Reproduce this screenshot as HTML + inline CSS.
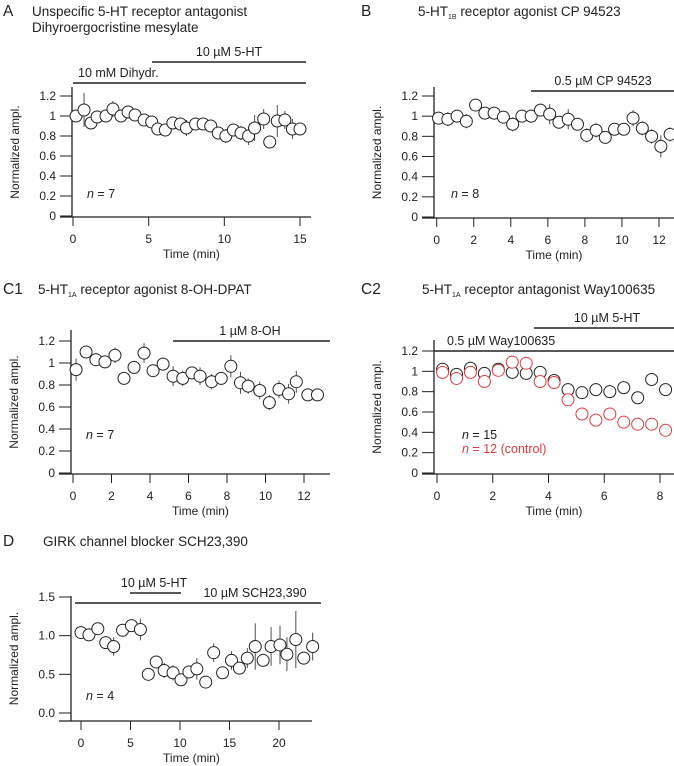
<!DOCTYPE html>
<html><head><meta charset="utf-8">
<style>
html,body{margin:0;padding:0;background:#fff;}
svg{display:block;font-family:"Liberation Sans",Arial,sans-serif;}
</style></head>
<body>
<svg id="fig" width="674" height="766" viewBox="0 0 674 766" xmlns="http://www.w3.org/2000/svg"></svg>
<script>
// Panel A data
const aTimes=[0.2,0.73,1.19,1.59,2.18,2.64,3.17,3.64,4.1,4.7,5.2,5.6,6.1,6.6,7.1,7.5,8.1,8.6,9.1,9.6,10.1,10.6,11.1,11.6,12.0,12.6,13.0,13.5,14.0,14.5,15.0];
const aValues=[1.0,1.06,0.93,0.99,1.0,1.07,1.0,1.04,1.01,0.96,0.94,0.87,0.86,0.93,0.92,0.88,0.92,0.92,0.90,0.83,0.80,0.86,0.83,0.80,0.88,0.97,0.74,0.95,0.96,0.87,0.87];
const aErrors=[0.04,0.17,0.04,0.05,0.05,0.08,0.06,0.05,0.05,0.05,0.04,0.04,0.03,0.05,0.06,0.08,0.05,0.06,0.05,0.05,0.07,0.06,0.07,0.09,0.13,0.1,0.06,0.16,0.09,0.1,0.04];
// Panel B data
const bTimes=[0.1,0.6,1.1,1.6,2.1,2.6,3.1,3.6,4.1,4.6,5.1,5.6,6.1,6.6,7.1,7.6,8.1,8.6,9.1,9.6,10.1,10.6,11.1,11.6,12.1,12.6];
const bValues=[0.98,0.97,1.0,0.95,1.11,1.03,1.03,0.99,0.92,1.0,1.0,1.06,1.02,0.94,0.97,0.92,0.81,0.86,0.79,0.87,0.87,0.98,0.88,0.80,0.70,0.82];
const bErrors=[0.05,0.07,0.05,0.07,0.06,0.04,0.04,0.06,0.07,0.06,0.04,0.06,0.1,0.06,0.1,0.06,0.07,0.07,0.06,0.05,0.04,0.08,0.07,0.07,0.11,0.07];
// Panel C1 data
const c1Times=[0.16,0.68,1.19,1.66,2.18,2.65,3.17,3.69,4.16,4.68,5.2,5.7,6.18,6.6,7.2,7.7,8.2,8.7,9.1,9.7,10.2,10.7,11.2,11.6,12.2,12.7];
const c1Values=[0.94,1.10,1.03,1.01,1.07,0.86,0.96,1.09,0.93,0.99,0.88,0.86,0.91,0.88,0.83,0.86,0.97,0.82,0.79,0.75,0.64,0.76,0.72,0.83,0.71,0.71];
const c1Errors=[0.1,0.03,0.06,0.03,0.07,0.02,0.05,0.09,0.03,0.03,0.09,0.07,0.05,0.08,0.07,0.06,0.1,0.1,0.07,0.08,0.07,0.08,0.09,0.1,0.03,0.03];
// Panel C2 data
const c2Times=[0.2,0.7,1.2,1.7,2.2,2.7,3.2,3.7,4.2,4.7,5.2,5.7,6.2,6.7,7.2,7.7,8.2];
const c2Way=[1.02,0.97,1.03,0.98,1.02,0.99,0.98,0.99,0.91,0.82,0.79,0.82,0.80,0.84,0.74,0.92,0.82];
const c2WayErr=[0.02,0.02,0.02,0.02,0.02,0.02,0.02,0.02,0.02,0.03,0.02,0.02,0.02,0.04,0.02,0.05,0.02];
const c2Control=[0.99,0.93,0.99,0.90,1.01,1.09,1.08,0.90,0.89,0.72,0.58,0.52,0.58,0.50,0.48,0.48,0.42];
const c2ControlErr=[0.03,0.04,0.04,0.03,0.03,0.03,0.05,0.03,0.03,0.04,0.05,0.05,0.06,0.04,0.06,0.06,0.05];
// Panel D data
const dTimes=[0,0.8,1.7,2.5,3.3,4.2,5.1,6.0,6.8,7.6,8.4,9.3,10.1,10.9,11.7,12.6,13.4,14.3,15.2,16.0,16.8,17.6,18.4,19.2,20.1,20.8,21.7,22.5,23.4];
const dValues=[1.04,1.01,1.09,0.91,0.86,1.07,1.13,1.08,0.50,0.66,0.55,0.52,0.43,0.53,0.57,0.40,0.78,0.52,0.68,0.58,0.71,0.86,0.68,0.86,0.88,0.76,0.95,0.71,0.86];
const dErrors=[0.08,0.05,0.05,0.08,0.12,0.05,0.07,0.14,0.03,0.05,0.1,0.1,0.05,0.06,0.14,0.03,0.12,0.03,0.12,0.05,0.13,0.3,0.05,0.25,0.25,0.22,0.37,0.04,0.18];

const NS="http://www.w3.org/2000/svg";
const svg=document.getElementById('fig');
function el(tag,attrs,parent,text){
  const e=document.createElementNS(NS,tag);
  for(const k in attrs)e.setAttribute(k,attrs[k]);
  if(text!==undefined)e.textContent=text;
  (parent||svg).appendChild(e);return e;
}
function panel(cfg){
  const g=el('g',{});
  
  
  const sx=t=>cfg.x0+(t-cfg.t0)*(cfg.x1-cfg.x0)/(cfg.t1-cfg.t0);
  const sy=v=>cfg.y0+(v-cfg.v0)*(cfg.y1-cfg.y0)/(cfg.v1-cfg.v0);
  const ya=el('line',{x1:cfg.ax,y1:cfg.axTop,x2:cfg.ax,y2:cfg.xy,stroke:'#222','stroke-width':1.3},g);
  
  
  const xa=el('line',{x1:cfg.ax-12,y1:cfg.xy,x2:cfg.axRight,y2:cfg.xy,stroke:'#222','stroke-width':1.3},g);
  
  
  cfg.yTicks.forEach((v,i)=>{
    const y=sy(v);
    el('line',{x1:cfg.ax-12,y1:y,x2:cfg.ax,y2:y,stroke:'#222','stroke-width':1},g);
    const t=el('text',{x:cfg.ax-16,y:y+4,'text-anchor':'end','font-size':12,fill:'#222'},g,cfg.yLabels[i]);
    
    
  });
  cfg.xTicks.forEach((v,i)=>{
    const x=sx(v);
    el('line',{x1:x,y1:cfg.xy,x2:x,y2:cfg.xy+9,stroke:'#222','stroke-width':1},g);
    const t=el('text',{x:x,y:cfg.xy+26,'text-anchor':'middle','font-size':12,fill:'#222'},g,cfg.xLabels[i]);
    
    
  });
  const xt=el('text',{x:(cfg.ax+cfg.axRight)/2,y:cfg.xy+41,'text-anchor':'middle','font-size':12,fill:'#222'},g,'Time (min)');
  
  
  const ymid=(cfg.axTop+cfg.xy)/2;
  const yx=cfg.ax-53;
  const yt=el('text',{x:yx,y:ymid,'text-anchor':'middle','font-size':12,fill:'#222',transform:`rotate(-90 ${yx} ${ymid})`},g,'Normalized ampl.');
  
  
  cfg.series.forEach(s=>{
    const sg=el('g',{},g);
    
    
    s.t.forEach((t,i)=>{
      const x=sx(t),y=sy(s.v[i]),e=s.e[i];
      el('line',{x1:x,y1:sy(s.v[i]-e),x2:x,y2:sy(s.v[i]+e),stroke:s.color,'stroke-width':1,opacity:0.8},sg);
      const c=el('circle',{cx:x,cy:y,r:6,fill:'#fff',stroke:s.color,'stroke-width':1},sg);
      
      
    });
  });
  return g;
}
function txt(x,y,s,size,name,anchor,fill,style){
  const t=el('text',{x:x,y:y,'font-size':size,fill:fill||'#222','text-anchor':anchor||'start','font-style':style||'normal'});
  
  
  return t;
}
function tspanText(t,parts){parts.forEach(p=>{el('tspan',p.a||{},t,p.s);});}
function bar(x1,x2,y,name){
  const l=el('line',{x1:x1,y1:y,x2:x2,y2:y,stroke:'#222','stroke-width':1.5});
  
  
}

let t;
t=txt(3,16,'',15.5,'panel-label-a');t.textContent='A';
t=txt(32,16,'',13.5,'panel-a-title');t.textContent='Unspecific 5-HT receptor antagonist';
t=txt(32,32,'',13.5,'panel-a-subtitle');t.textContent='Dihyroergocristine mesylate';
bar(152,306,62,'5ht-bar-a');t=txt(229,56,'',12.5,'5ht-label-a','middle');t.textContent='10 µM 5-HT';
bar(73,306,83,'dihydr-bar-a');t=txt(78,77,'',12.5,'dihydr-label-a');t.textContent='10 mM Dihydr.';
panel({name:'panel-a',x0:73,x1:300,t0:0,t1:15,y0:216,y1:96,v0:0,v1:1.2,ax:72,axTop:87,axRight:311,xy:217,
  yTicks:[0,0.2,0.4,0.6,0.8,1,1.2],yLabels:['0','0.2','0.4','0.6','0.8','1','1.2'],xTicks:[0,5,10,15],xLabels:['0','5','10','15'],
  series:[{name:'series-a',t:aTimes,v:aValues,e:aErrors,color:'#222'}]});
t=txt(87,198,'',12.5,'n-label-a');tspanText(t,[{s:'n',a:{'font-style':'italic'}},{s:' = 7'}]);

t=txt(361,16,'',15.5,'panel-label-b');t.textContent='B';
t=txt(418,16,'',13.5,'panel-b-title');tspanText(t,[{s:'5-HT'},{s:'1B',a:{'font-size':7,dy:3}},{s:' receptor agonist CP 94523',a:{dy:-3}}]);
bar(531,674,91,'cp-bar-b');t=txt(603,85,'',12.5,'cp-label-b','middle');t.textContent='0.5 µM CP 94523';
panel({name:'panel-b',x0:436.7,x1:659,t0:0,t1:12,y0:217,y1:96,v0:0,v1:1.2,ax:434,axTop:87,axRight:674,xy:218,
  yTicks:[0,0.2,0.4,0.6,0.8,1,1.2],yLabels:['0','0.2','0.4','0.6','0.8','1','1.2'],xTicks:[0,2,4,6,8,10,12],xLabels:['0','2','4','6','8','10','12'],
  series:[{name:'series-b',t:bTimes,v:bValues,e:bErrors,color:'#222'}]});
t=txt(451,198,'',12.5,'n-label-b');tspanText(t,[{s:'n',a:{'font-style':'italic'}},{s:' = 8'}]);

t=txt(3,294,'',15.5,'panel-label-c1');t.textContent='C1';
t=txt(38,294,'',13.5,'panel-c1-title');tspanText(t,[{s:'5-HT'},{s:'1A',a:{'font-size':7,dy:3}},{s:' receptor agonist 8-OH-DPAT',a:{dy:-3}}]);
bar(173,330,341,'8oh-bar-c1');t=txt(250,335,'',12.5,'8oh-label-c1','middle');t.textContent='1 µM 8-OH';
panel({name:'panel-c1',x0:73,x1:304,t0:0,t1:12,y0:473,y1:341,v0:0,v1:1.2,ax:71,axTop:330,axRight:330,xy:474,
  yTicks:[0,0.2,0.4,0.6,0.8,1,1.2],yLabels:['0','0.2','0.4','0.6','0.8','1','1.2'],xTicks:[0,2,4,6,8,10,12],xLabels:['0','2','4','6','8','10','12'],
  series:[{name:'series-c1',t:c1Times,v:c1Values,e:c1Errors,color:'#222'}]});
t=txt(86,439,'',12.5,'n-label-c1');tspanText(t,[{s:'n',a:{'font-style':'italic'}},{s:' = 7'}]);

t=txt(361,294,'',15.5,'panel-label-c2');t.textContent='C2';
t=txt(422,294,'',13.5,'panel-c2-title');tspanText(t,[{s:'5-HT'},{s:'1A',a:{'font-size':7,dy:3}},{s:' receptor antagonist Way100635',a:{dy:-3}}]);
bar(534,674,328,'5ht-bar-c2');t=txt(607,322,'',12.5,'5ht-label-c2','middle');t.textContent='10 µM 5-HT';
bar(434,674,351,'way-bar-c2');t=txt(447,345,'',12.5,'way-label-c2');t.textContent='0.5 µM Way100635';
panel({name:'panel-c2',x0:437,x1:660,t0:0,t1:8,y0:473,y1:351,v0:0,v1:1.2,ax:434,axTop:340,axRight:674,xy:474,
  yTicks:[0,0.2,0.4,0.6,0.8,1,1.2],yLabels:['0','0.2','0.4','0.6','0.8','1','1.2'],xTicks:[0,2,4,6,8],xLabels:['0','2','4','6','8'],
  series:[{name:'series-way',t:c2Times,v:c2Way,e:c2WayErr,color:'#222'},{name:'series-control',t:c2Times,v:c2Control,e:c2ControlErr,color:'#e0393e'}]});
t=txt(462,439,'',12.5,'n-label-way');tspanText(t,[{s:'n',a:{'font-style':'italic'}},{s:' = 15'}]);
t=txt(462,453,'',12.5,'n-label-control','start','#e0393e');tspanText(t,[{s:'n',a:{'font-style':'italic'}},{s:' = 12 (control)'}]);

t=txt(3,546,'',15.5,'panel-label-d');t.textContent='D';
t=txt(43,546,'',13.5,'panel-d-title');t.textContent='GIRK channel blocker SCH23,390';
bar(130,181,593,'5ht-bar-d');t=txt(154,587,'',12.5,'5ht-label-d','middle');t.textContent='10 µM 5-HT';
bar(75,321,603,'sch-bar-d');t=txt(255,597,'',12.5,'sch-label-d','middle');t.textContent='10 µM SCH23,390';
panel({name:'panel-d',x0:81,x1:279,t0:0,t1:20,y0:713,y1:597,v0:0,v1:1.5,ax:71,axTop:596,axRight:312,xy:721,
  yTicks:[0,0.5,1.0,1.5],yLabels:['0.0','0.5','1.0','1.5'],xTicks:[0,5,10,15,20],xLabels:['0','5','10','15','20'],
  series:[{name:'series-d',t:dTimes,v:dValues,e:dErrors,color:'#222'}]});
t=txt(86,700,'',12.5,'n-label-d');tspanText(t,[{s:'n',a:{'font-style':'italic'}},{s:' = 4'}]);
</script>
</body></html>
